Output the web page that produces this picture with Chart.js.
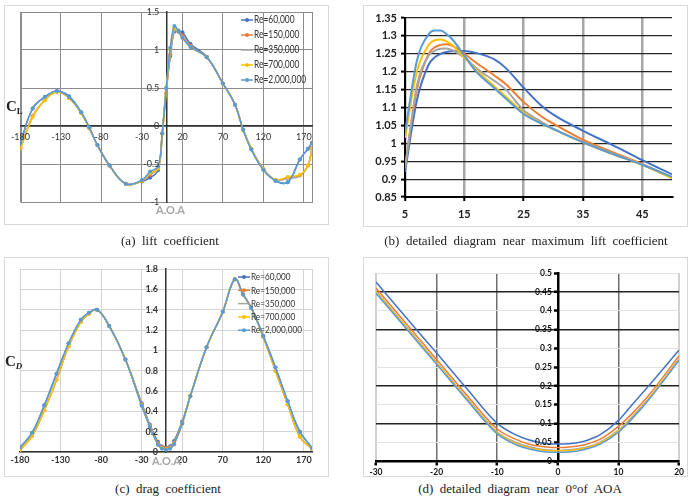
<!DOCTYPE html>
<html>
<head>
<meta charset="utf-8">
<script src="https://cdn.jsdelivr.net/npm/chart.js@4.4.1/dist/chart.umd.min.js"></script>
<style>
  body { margin: 0; background: #fff; width: 692px; height: 497px; position: relative; overflow: hidden; }
  .panel { position: absolute; border: 1px solid #d9d9d9; box-sizing: border-box; background: #fff; }
  .panel canvas { position: absolute; left: 0; top: 0; }
  .caption { position: absolute; width: 400px; text-align: center; font-family: "Liberation Serif", serif; font-size: 13px; color: #222; white-space: pre; }
  .axname { position: absolute; font-family: Lato, sans-serif; font-weight: bold; font-size: 11px; color: #a6a6a6; }
  .coef { position: absolute; font-family: "Liberation Serif", serif; font-weight: bold; font-size: 15px; color: #222; }
  .coef sub { font-size: 9px; vertical-align: -3px; }
</style>
</head>
<body>

<div class="panel" style="left:4px;top:5px;width:325px;height:220px"><canvas id="chartA" width="323" height="218"></canvas></div>
<div class="panel" style="left:363px;top:5px;width:325px;height:222px"><canvas id="chartB" width="323" height="220"></canvas></div>
<div class="panel" style="left:4px;top:257px;width:325px;height:220px"><canvas id="chartC" width="323" height="218"></canvas></div>
<div class="panel" style="left:363px;top:257px;width:325px;height:220px"><canvas id="chartD" width="323" height="218"></canvas></div>

<div class="coef" style="left:6px;top:98px">C<sub>L</sub></div>
<div class="coef" style="left:5px;top:353px">C<sub><i>D</i></sub></div>
<div class="axname" style="left:156px;top:203px">A.O.A</div>
<div class="axname" style="left:152px;top:454px">A.O.A</div>

<div class="caption" style="left:-30px;top:233px">(a)  lift  coefficient</div>
<div class="caption" style="left:326px;top:233px">(b)  detailed  diagram  near  maximum  lift  coefficient</div>
<div class="caption" style="left:-32px;top:481px">(c)  drag  coefficient</div>
<div class="caption" style="left:320px;top:481px">(d)  detailed  diagram  near  0°of  AOA</div>

<script>
const reLabels = ['Re=60,000', 'Re=150,000', 'Re=350,000', 'Re=700,000', 'Re=2,000,000'];
const reColors = ['#4472c4', '#ed7d31', '#a5a5a5', '#ffc000', '#5b9bd5'];

// (a) lift coefficient, full range
const aoaA = [-180,-165,-150,-135,-120,-105,-95,-85,-70,-50,-30,-20,-10,-5,0,5,10,15,20,30,50,70,85,95,105,120,135,150,165,175,180];
const clA60  = [-0.22,0.23,0.38,0.46,0.39,0.18,-0.02,-0.25,-0.52,-0.76,-0.73,-0.68,-0.58,-0.10,0.50,0.92,1.245,1.255,1.232,1.08,0.91,0.56,0.28,-0.05,-0.30,-0.57,-0.72,-0.74,-0.44,-0.30,-0.22];
const clA150 = [-0.29,0.13,0.34,0.45,0.37,0.17,-0.03,-0.25,-0.52,-0.76,-0.72,-0.64,-0.55,-0.10,0.43,0.945,1.268,1.248,1.19,1.055,0.905,0.56,0.28,-0.05,-0.30,-0.57,-0.71,-0.68,-0.65,-0.52,-0.29];
const clA350 = [-0.29,0.12,0.34,0.45,0.37,0.17,-0.03,-0.25,-0.52,-0.76,-0.72,-0.63,-0.55,-0.10,0.48,0.93,1.252,1.238,1.175,1.04,0.905,0.56,0.28,-0.05,-0.30,-0.57,-0.71,-0.69,-0.66,-0.52,-0.30];
const clA700 = [-0.30,0.12,0.34,0.45,0.37,0.17,-0.03,-0.25,-0.52,-0.76,-0.72,-0.62,-0.56,-0.10,0.50,1.015,1.288,1.24,1.16,1.04,0.905,0.56,0.28,-0.05,-0.30,-0.57,-0.71,-0.67,-0.64,-0.52,-0.30];
const clA2M  = [-0.22,0.23,0.38,0.46,0.38,0.18,-0.02,-0.25,-0.52,-0.76,-0.71,-0.60,-0.53,-0.10,0.50,1.03,1.315,1.245,1.16,1.04,0.905,0.56,0.28,-0.05,-0.31,-0.58,-0.72,-0.74,-0.44,-0.30,-0.22];
const xTicksA = [-180,-130,-80,-30,20,70,120,170];
const yTicksA = [-1,-0.5,0,0.5,1,1.5];

// (b) detail near max lift
const aoaB = [5,7,9,10,11,12,13,15,17,20,22,25,28,30,35,40,45,50];
const clB60  = [0.92,1.12,1.22,1.24,1.25,1.255,1.257,1.258,1.252,1.235,1.21,1.155,1.105,1.08,1.035,0.995,0.953,0.913];
const clB150 = [0.935,1.15,1.25,1.268,1.275,1.277,1.272,1.25,1.225,1.19,1.165,1.115,1.075,1.055,1.01,0.975,0.942,0.905];
const clB350 = [0.93,1.16,1.245,1.258,1.264,1.265,1.26,1.24,1.21,1.175,1.15,1.092,1.06,1.04,1.003,0.972,0.94,0.904];
const clB700 = [1.015,1.2,1.275,1.288,1.29,1.285,1.273,1.24,1.205,1.16,1.13,1.085,1.055,1.04,1.003,0.97,0.94,0.903];
const clB2M  = [1.03,1.23,1.305,1.315,1.315,1.305,1.29,1.245,1.2,1.155,1.125,1.082,1.055,1.04,1.003,0.97,0.94,0.906];
const xTicksB = [5,15,25,35,45];
const yTicksB = [0.85,0.9,0.95,1,1.05,1.1,1.15,1.2,1.25,1.3,1.35];

// (c) drag coefficient, full range
const aoaC = [-180,-165,-150,-135,-120,-105,-95,-85,-70,-50,-30,-20,-10,-5,0,5,10,20,30,50,70,85,95,105,120,135,150,165,180];
const cdC60  = [0.045,0.19,0.46,0.77,1.07,1.30,1.37,1.40,1.24,0.91,0.48,0.27,0.10,0.055,0.045,0.056,0.108,0.30,0.55,1.03,1.38,1.70,1.55,1.42,1.14,0.83,0.50,0.20,0.04];
const cdC150 = [0.02,0.16,0.41,0.71,1.04,1.28,1.36,1.40,1.24,0.91,0.47,0.26,0.085,0.046,0.036,0.046,0.092,0.29,0.55,1.03,1.38,1.70,1.55,1.42,1.13,0.80,0.47,0.15,0.03];
const cdC350 = [0.02,0.16,0.41,0.71,1.04,1.28,1.36,1.40,1.24,0.91,0.46,0.255,0.077,0.039,0.028,0.038,0.082,0.285,0.55,1.03,1.38,1.70,1.55,1.42,1.13,0.80,0.47,0.15,0.03];
const cdC700 = [0.02,0.16,0.41,0.71,1.04,1.28,1.36,1.40,1.24,0.91,0.46,0.255,0.075,0.036,0.027,0.036,0.080,0.28,0.55,1.03,1.38,1.70,1.55,1.42,1.13,0.80,0.47,0.15,0.03];
const cdC2M  = [0.045,0.19,0.46,0.77,1.07,1.30,1.37,1.40,1.24,0.91,0.455,0.25,0.072,0.033,0.023,0.033,0.077,0.28,0.55,1.03,1.38,1.70,1.55,1.42,1.14,0.83,0.50,0.20,0.04];
const xTicksC = [-180,-130,-80,-30,20,70,120,170];
const yTicksC = [0,0.2,0.4,0.6,0.8,1,1.2,1.4,1.6,1.8];

// (d) detail near 0 deg
const aoaD = [-30,-25,-20,-15,-10,-7,-5,-3,-1,0,1,3,5,7,10,12,15,20];
const cdD60  = [0.476,0.381,0.287,0.192,0.100,0.070,0.057,0.049,0.045,0.045,0.045,0.048,0.056,0.070,0.108,0.145,0.20,0.295];
const cdD150 = [0.46,0.365,0.270,0.175,0.085,0.058,0.046,0.039,0.036,0.036,0.036,0.039,0.046,0.058,0.092,0.122,0.175,0.28];
const cdD350 = [0.452,0.357,0.262,0.167,0.077,0.050,0.039,0.032,0.029,0.028,0.029,0.032,0.038,0.050,0.082,0.113,0.166,0.272];
const cdD700 = [0.45,0.355,0.26,0.165,0.075,0.047,0.036,0.030,0.027,0.027,0.027,0.030,0.036,0.048,0.080,0.110,0.165,0.27];
const cdD2M  = [0.446,0.352,0.257,0.162,0.072,0.044,0.033,0.026,0.023,0.023,0.023,0.026,0.033,0.045,0.077,0.108,0.163,0.268];
const xTicksD = [-30,-20,-10,0,10,20];
const yTicksD = [0,0.05,0.1,0.15,0.2,0.25,0.3,0.35,0.4,0.45,0.5];
const darkRowsD = [0.1,0.2,0.35,0.45];

function points(xs, ys) {
    return xs.map((x, i) => ({x: x, y: ys[i]}));
}

function buildDatasets(xs, seriesList, withMarkers, width, smooth) {
    return seriesList.map((ys, i) => ({
        label: reLabels[i],
        data: points(xs, ys),
        borderColor: reColors[i],
        backgroundColor: reColors[i],
        borderWidth: width,
        pointRadius: withMarkers && i != 2 ? 2 : 0,
        pointBorderWidth: 0,
        tension: smooth,
        cubicInterpolationMode: smooth ? 'default' : 'monotone',
        order: 5 - i,
    }));
}

// plain labels: 1 not 1.0, 1.3 not 1.30
const plainLabel = v => String(Math.round(v * 100) / 100);

// legend drawn inside the plot, like the spreadsheet one
const insideLegend = {
    id: 'insideLegend',
    afterDatasetsDraw(chart, args, o) {
        if (!o || !o.display) return;
        let ctx = chart.ctx;
        ctx.save();
        ctx.font = o.font;
        ctx.textBaseline = 'middle';
        chart.data.datasets.forEach((ds, i) => {
            let y = o.y + i * o.gap;
            ctx.strokeStyle = ds.borderColor;
            ctx.lineWidth = 1.5;
            ctx.beginPath();
            ctx.moveTo(o.x, y);
            ctx.lineTo(o.x + 12, y);
            ctx.stroke();
            if (ds.pointRadius > 0) {
                ctx.fillStyle = ds.borderColor;
                ctx.beginPath();
                ctx.arc(o.x + 6, y, 2, 0, Math.PI * 2);
                ctx.fill();
            }
            // narrow the text a bit, the original uses a condensed face
            ctx.save();
            ctx.translate(o.x + 13, y);
            ctx.scale(o.squeeze, 1);
            ctx.fillStyle = '#333';
            ctx.fillText(ds.label, 0, 0);
            ctx.restore();
        });
        ctx.restore();
    }
};

// y labels for an axis that sits at x = 0: chart.js puts them right on the line,
// so draw them here with a small gap instead
const centerYLabels = {
    id: 'centerYLabels',
    afterDatasetsDraw(chart, args, o) {
        if (!o || !o.font) return;
        let yScale = chart.scales.y;
        let x0 = chart.scales.x.getPixelForValue(0);
        let ctx = chart.ctx;
        ctx.save();
        ctx.font = o.font;
        ctx.fillStyle = o.color;
        ctx.textAlign = 'right';
        ctx.textBaseline = 'middle';
        yScale.ticks.forEach(t => {
            ctx.fillText(plainLabel(t.value), x0 - o.gap, yScale.getPixelForValue(t.value));
        });
        ctx.restore();
    }
};

const plotFrame = {
    id: 'plotFrame',
    beforeDraw(chart, args, o) {
        if (!o || !o.color) return;
        let a = chart.chartArea;
        let ctx = chart.ctx;
        ctx.save();
        ctx.strokeStyle = o.color;
        ctx.lineWidth = 1;
        ctx.strokeRect(Math.round(a.left) + 0.5, Math.round(a.top) + 0.5, Math.round(a.width), Math.round(a.height));
        ctx.restore();
    }
};

function fixedTicks(values) {
    return function(axis) { axis.ticks = values.map(v => ({value: v})); };
}

const basePlugins = {
    legend: {display: false},
    tooltip: {enabled: false},
};

// (a)
new Chart(document.getElementById('chartA'), {
    type: 'line',
    data: {datasets: buildDatasets(aoaA, [clA60, clA150, clA350, clA700, clA2M], true, 1.5, 0.4)},
    options: {
        responsive: false,
        animation: false,
        layout: {padding: {left: 14, right: 16, top: 6, bottom: 22}},
        scales: {
            x: {
                type: 'linear', axis: 'x', min: -180, max: 180, position: {y: 0},
                afterBuildTicks: fixedTicks(xTicksA),
                grid: {color: '#8c8c8c', lineWidth: 1, drawTicks: false},
                border: {color: '#333', width: 1.5},
                ticks: {font: {family: 'Lato', size: 9}, color: '#333', padding: 6, maxRotation: 0, autoSkip: false, z: 1, callback: plainLabel},
            },
            y: {
                type: 'linear', axis: 'y', min: -1, max: 1.5, position: {x: 0},
                afterBuildTicks: fixedTicks(yTicksA),
                grid: {color: '#8c8c8c', lineWidth: 1, drawTicks: false},
                border: {color: '#333', width: 1.5},
                ticks: {display: false},
            }
        },
        plugins: Object.assign({}, basePlugins, {
            insideLegend: {display: true, x: 236, y: 14, gap: 15, font: '10.5px Lato', squeeze: 0.8},
            centerYLabels: {font: '9px Lato', color: '#333', gap: 7},
            plotFrame: {color: '#8c8c8c'},
        }),
    },
    plugins: [insideLegend, centerYLabels, plotFrame],
});

// (b)
new Chart(document.getElementById('chartB'), {
    type: 'line',
    data: {datasets: buildDatasets(aoaB, [clB60, clB150, clB350, clB700, clB2M], false, 2, 0)},
    options: {
        responsive: false,
        animation: false,
        layout: {padding: {left: 4, right: 15, top: 12, bottom: 4}},
        scales: {
            x: {
                type: 'linear', min: 5, max: 50,
                afterBuildTicks: fixedTicks(xTicksB),
                afterFit: function(axis) { axis.height = 25; },
                grid: {color: '#a6a6a6', lineWidth: 2.5, tickLength: 4, tickColor: '#000', tickWidth: 2},
                border: {color: '#000', width: 2},
                ticks: {font: {family: 'Lato', size: 11, weight: 'bold'}, color: '#222', padding: 7, maxRotation: 0, autoSkip: false, callback: plainLabel},
            },
            y: {
                type: 'linear', min: 0.85, max: 1.35,
                afterBuildTicks: fixedTicks(yTicksB),
                afterFit: function(axis) { axis.width = 37; },
                grid: {color: '#262626', lineWidth: 1.2, tickLength: 4, tickColor: '#000', tickWidth: 2},
                border: {color: '#000', width: 2},
                ticks: {font: {family: 'Lato', size: 11, weight: 'bold'}, color: '#222', padding: 4, autoSkip: false, callback: plainLabel},
            }
        },
        plugins: basePlugins,
    },
});

// (c)
new Chart(document.getElementById('chartC'), {
    type: 'line',
    data: {datasets: buildDatasets(aoaC, [cdC60, cdC150, cdC350, cdC700, cdC2M], true, 1.5, 0.4)},
    options: {
        responsive: false,
        animation: false,
        layout: {padding: {left: 15, right: 16, top: 11, bottom: 24}},
        scales: {
            x: {
                type: 'linear', axis: 'x', min: -180, max: 180, position: {y: 0},
                afterBuildTicks: fixedTicks(xTicksC),
                grid: {color: '#d4d4d4', lineWidth: 1, drawTicks: false},
                border: {color: '#333', width: 1.5},
                ticks: {font: {family: 'Lato', size: 9, weight: 'bold'}, color: '#333', padding: 3, maxRotation: 0, autoSkip: false, z: 1, callback: plainLabel},
            },
            y: {
                type: 'linear', axis: 'y', min: 0, max: 1.8, position: {x: 0},
                afterBuildTicks: fixedTicks(yTicksC),
                grid: {color: '#d4d4d4', lineWidth: 1, drawTicks: false},
                border: {color: '#333', width: 1.5},
                ticks: {display: false},
            }
        },
        plugins: Object.assign({}, basePlugins, {
            insideLegend: {display: true, x: 233, y: 19, gap: 13.3, font: '10px Lato', squeeze: 0.82},
            centerYLabels: {font: 'bold 9px Lato', color: '#333', gap: 8},
            plotFrame: {color: '#d4d4d4'},
        }),
    },
    plugins: [insideLegend, centerYLabels, plotFrame],
});

// (d)
new Chart(document.getElementById('chartD'), {
    type: 'line',
    data: {datasets: buildDatasets(aoaD, [cdD60, cdD150, cdD350, cdD700, cdD2M], false, 1.5, 0)},
    options: {
        responsive: false,
        animation: false,
        layout: {padding: {left: 12, right: 7, top: 15, bottom: 15}},
        scales: {
            x: {
                type: 'linear', axis: 'x', min: -30, max: 20, position: {y: 0},
                afterBuildTicks: fixedTicks(xTicksD),
                grid: {
                    color: ctx => (ctx.tick && (ctx.tick.value == -30 || ctx.tick.value == 20)) ? '#d0d0d0' : '#6e6e6e',
                    lineWidth: 1.5, tickLength: 3, tickColor: '#000', tickWidth: 2.5
                },
                border: {color: '#000', width: 2.5},
                ticks: {font: {family: 'Lato', size: 8.5, weight: 'bold'}, color: '#111', padding: 3, maxRotation: 0, autoSkip: false, z: 1, callback: plainLabel},
            },
            y: {
                type: 'linear', axis: 'y', min: 0, max: 0.5, position: {x: 0},
                afterBuildTicks: fixedTicks(yTicksD),
                grid: {
                    color: ctx => (ctx.tick && darkRowsD.some(v => Math.abs(v - ctx.tick.value) < 1e-6)) ? '#222' : '#e2e2e2',
                    lineWidth: ctx => (ctx.tick && darkRowsD.some(v => Math.abs(v - ctx.tick.value) < 1e-6)) ? 1.5 : 1,
                    tickLength: 3, tickColor: '#000', tickWidth: 2.5
                },
                border: {color: '#000', width: 2.5},
                ticks: {display: false},
            }
        },
        plugins: Object.assign({}, basePlugins, {
            centerYLabels: {font: 'bold 8.5px Lato', color: '#111', gap: 6},
            plotFrame: {color: '#d0d0d0'},
        }),
    },
    plugins: [centerYLabels, plotFrame],
});
</script>
</body>
</html>
